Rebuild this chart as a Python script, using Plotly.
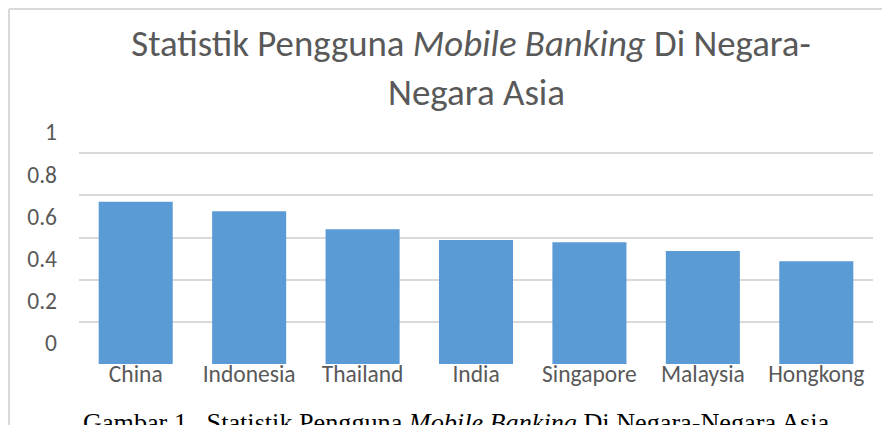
import plotly.graph_objects as go

categories = ["China", "Indonesia", "Thailand", "India", "Singapore", "Malaysia", "Hongkong"]
values = [0.77, 0.725, 0.64, 0.588, 0.578, 0.536, 0.488]

grid_vals = [0, 0.2, 0.4, 0.6, 0.8, 1.0]
# tick labels in the reference sit half a step above their gridlines
label_vals = [0.1, 0.3, 0.5, 0.7, 0.9, 1.1]
label_text = ["0", "0.2", "0.4", "0.6", "0.8", "1"]

FONT = "Carlito, Calibri, 'Open Sans', sans-serif"
TXT = "#595959"
GRID = "#d9d9d9"

# page body has an 8px margin; layout is expressed in figure pixels
L, R, T, B = 71, 865, 120, 356
PW, PH = R - L, B - T


def px(x):
    return (x - L) / PW


def py(y):
    return (B - y) / PH


fig = go.Figure(go.Bar(x=categories, y=values, marker_color="#5B9BD5",
                       marker_line_width=0))

fig.update_layout(
    width=890, height=425,
    margin=dict(l=L, r=890 - R, t=T, b=425 - B),
    paper_bgcolor="white", plot_bgcolor="white",
    bargap=0.347,
    showlegend=False,
    title=dict(text="Statistik Pengguna <i>Mobile Banking</i> Di Negara-",
               x=px(463), xanchor="center", xref="paper",
               y=1 - 35 / 425, yanchor="middle", yref="container",
               font=dict(family=FONT, size=36.8, color=TXT)),
    annotations=[
        dict(text="Negara Asia", xref="paper", yref="paper",
             x=0.5, y=py(84), xanchor="center", yanchor="middle",
             showarrow=False, font=dict(family=FONT, size=37, color=TXT)),
        dict(text="Gambar 1.  Statistik Pengguna <i>Mobile Banking</i> Di Negara-Negara Asia",
             xref="paper", yref="paper", x=px(448), y=py(414),
             xanchor="center", yanchor="middle", showarrow=False,
             font=dict(family="'Liberation Serif', 'Times New Roman', serif", size=26.2, color="black")),
    ],
    shapes=[
        dict(type="line", xref="paper", yref="paper",
             x0=px(1), x1=px(1), y0=py(1), y1=py(430),
             line=dict(color=GRID, width=2)),
        dict(type="line", xref="paper", yref="paper",
             x0=px(1), x1=px(895), y0=py(1), y1=py(1),
             line=dict(color=GRID, width=2)),
    ],
)

fig.update_xaxes(showgrid=False, showline=False, zeroline=False, ticks="",
                 ticklabelstandoff=-7,
                 tickfont=dict(family=FONT, size=23.5, color=TXT))
fig.update_yaxes(range=[0, 1.12], tickvals=label_vals, ticktext=label_text,
                 showgrid=False, zeroline=False, showline=False, ticks="",
                 ticklabelstandoff=21,
                 tickfont=dict(family=FONT, size=23.5, color=TXT),
                 minor=dict(tickvals=grid_vals, showgrid=True, gridcolor=GRID,
                            gridwidth=2, ticks=""))

fig.write_html("out.html")
